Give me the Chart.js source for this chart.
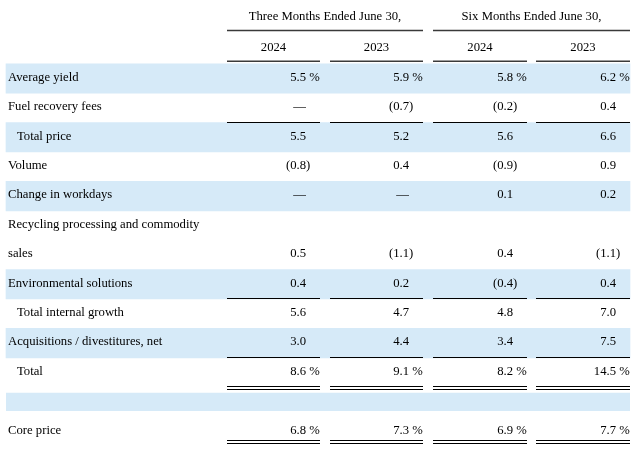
<!DOCTYPE html>
<html lang="en">
<head>
<meta charset="UTF-8">
<title>Revenue growth</title>
<script src="https://cdn.jsdelivr.net/npm/chart.js"></script>
<style>
  html, body { margin: 0; padding: 0; background: #fff; }
  #wrap { width: 640px; height: 458px; }
</style>
</head>
<body>
<div id="wrap"><canvas id="myChart"></canvas></div>
<script>
// ---- data ----
const periods = ['Three Months Ended June 30,', 'Six Months Ended June 30,'];
const years = ['2024', '2023', '2024', '2023'];
const rowLabels = [
  'Average yield', 'Fuel recovery fees', 'Total price', 'Volume', 'Change in workdays',
  'Recycling processing and commodity', 'sales', 'Environmental solutions',
  'Total internal growth', 'Acquisitions / divestitures, net', 'Total', '', 'Core price'
];
// 0 is shown as a dash, null as an empty cell
const three2024 = [5.5, 0, 5.5, -0.8, 0, null, 0.5, 0.4, 5.6, 3.0, 8.6, null, 6.8];
const three2023 = [5.9, -0.7, 5.2, 0.4, 0, null, -1.1, 0.2, 4.7, 4.4, 9.1, null, 7.3];
const six2024 = [5.8, -0.2, 5.6, -0.9, 0.1, null, 0.4, -0.4, 4.8, 3.4, 8.2, null, 6.9];
const six2023 = [6.2, 0.4, 6.6, 0.9, 0.2, null, -1.1, 0.4, 7.0, 7.5, 14.5, null, 7.7];
const columns = [three2024, three2023, six2024, six2023];

const percentRows = ['Average yield', 'Total', 'Core price'];
const indentRows = ['Total price', 'Total internal growth', 'Total'];
const shadedRows = ['Average yield', 'Total price', 'Change in workdays',
  'Environmental solutions', 'Acquisitions / divestitures, net'];
const singleRule = ['Fuel recovery fees', 'Environmental solutions', 'Acquisitions / divestitures, net'];
const doubleRule = ['Total', 'Core price'];

// ---- layout / style ----
const FONT = '12.7px "Liberation Serif", "Times New Roman", serif';
const BAND = '#d6eaf8';
const tableLeft = 6, tableRight = 630;
const labelX = 8, indentX = 17;
const colSpans = [[227, 320], [330, 423], [433, 527], [536, 630]];
const periodSpans = [[227, 423], [433, 630]];

const slots = ['periods', 'years', ...rowLabels];

function fmt(v) {
  if (v === null) return null;
  if (v === 0) return { body: '\u2014', tail: '' };
  if (v < 0) return { body: '(' + Math.abs(v).toFixed(1), tail: ')' };
  return { body: v.toFixed(1), tail: '' };
}

const tablePlugin = {
  id: 'tableText',
  afterDatasetsDraw(chart) {
    const { ctx, scales: { x, y } } = chart;
    const pitch = y.getPixelForValue(1) - y.getPixelForValue(0);
    const px = v => x.getPixelForValue(v);

    function rule(l, r, yy, w, color) {
      ctx.strokeStyle = color;
      ctx.lineWidth = w;
      ctx.beginPath();
      ctx.moveTo(px(l), yy);
      ctx.lineTo(px(r), yy);
      ctx.stroke();
    }

    ctx.save();
    ctx.font = FONT;
    ctx.fillStyle = '#000';
    ctx.textBaseline = 'middle';

    // period headers
    const y0 = y.getPixelForValue(0);
    periods.forEach((p, i) => {
      const [l, r] = periodSpans[i];
      ctx.textAlign = 'center';
      ctx.fillText(p, px((l + r) / 2), y0 - 3);
      rule(l, r, y0 + pitch / 2 - 4, 1.5, '#3a3a3a');
    });

    // year headers
    const y1 = y.getPixelForValue(1);
    years.forEach((yr, i) => {
      const [l, r] = colSpans[i];
      ctx.textAlign = 'center';
      ctx.fillText(yr, px((l + r) / 2), y1 - 1);
      rule(l, r, y1 + pitch / 2 - 2.5, 1.5, '#3a3a3a');
    });

    // body rows
    rowLabels.forEach((label, i) => {
      const yy = y.getPixelForValue(i + 2) - 1;
      ctx.textAlign = 'left';
      ctx.fillText(label, indentRows.includes(label) ? indentX : labelX, yy);

      columns.forEach((col, c) => {
        const cell = fmt(col[i]);
        const edge = px(colSpans[c][1] - 14);
        if (cell) {
          ctx.textAlign = 'right';
          ctx.fillText(cell.body, edge, yy);
          ctx.textAlign = 'left';
          let tail = cell.tail;
          if (percentRows.includes(label)) tail += ' %';
          if (tail) ctx.fillText(tail, edge, yy);
        }
        const [l, r] = colSpans[c];
        if (singleRule.includes(label)) {
          rule(l, r, Math.round(yy + pitch / 2) + 0.5, 1, '#000');
        }
        if (doubleRule.includes(label)) {
          const base = Math.round(yy + (label === 'Core price' ? 10 : 14)) + 0.5;
          rule(l, r, base, 1, '#000');
          rule(l, r, base + 3, 1, '#000');
        }
      });
    });
    ctx.restore();
  }
};

const config = {
  type: 'bar',
  data: {
    labels: slots,
    datasets: [
      {
        data: slots.map(s => shadedRows.includes(s) ? [tableLeft, tableRight] : null),
        backgroundColor: BAND,
        borderWidth: 0,
        barPercentage: 1,
        categoryPercentage: 1,
        grouped: false
      },
      {
        // thin spacer band under the totals
        data: slots.map(s => s === '' ? [tableLeft, tableRight] : null),
        backgroundColor: BAND,
        borderWidth: 0,
        barPercentage: 0.62,
        categoryPercentage: 1,
        grouped: false
      }
    ]
  },
  plugins: [tablePlugin],
  options: {
    indexAxis: 'y',
    responsive: true,
    maintainAspectRatio: false,
    animation: false,
    layout: { padding: { top: 5, bottom: 12, left: 0, right: 0 } },
    plugins: { legend: { display: false }, tooltip: { enabled: false } },
    scales: {
      x: { type: 'linear', min: 0, max: 640, display: false },
      y: { type: 'category', display: false, offset: true }
    }
  }
};

const myChart = new Chart(document.getElementById('myChart'), config);
</script>
</body>
</html>
